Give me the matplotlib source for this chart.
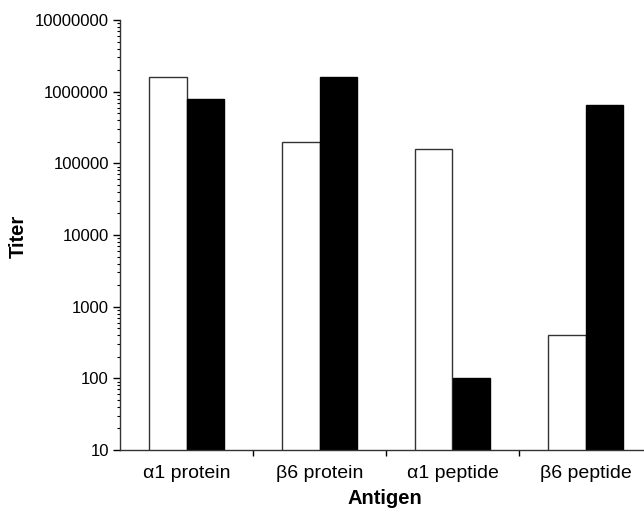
import numpy as np
import matplotlib
matplotlib.use('Agg')
import matplotlib.pyplot as plt

# data
antigens = ['α1 protein', 'β6 protein', 'α1 peptide', 'β6 peptide']
titer_white = [1600000, 200000, 160000, 400]
titer_black = [800000, 1600000, 100, 650000]

plt.rcParams['font.family'] = ['Liberation Sans', 'DejaVu Sans']

fig = plt.figure(figsize=(6.44, 5.08), dpi=100)
ax = fig.add_axes([120 / 644, 58 / 508, 532 / 644, 430 / 508])

x = np.arange(len(antigens))
w = 0.28
ax.bar(x - w / 2, titer_white, width=w, color='white', edgecolor='#333333', linewidth=1.0)
ax.bar(x + w / 2, titer_black, width=w, color='black', edgecolor='black', linewidth=1.0)

ax.set_yscale('log')
ax.set_ylim(10, 10000000)
ax.set_xlim(-0.5, 3.5)

ticks = [10, 100, 1000, 10000, 100000, 1000000, 10000000]
ax.set_yticks(ticks)
ax.set_yticklabels([str(t) for t in ticks], fontsize=12)
ax.tick_params(axis='y', which='major', length=5, width=1, direction='out', pad=3)
ax.tick_params(axis='y', which='minor', length=2.5, width=0.8, direction='out')

# category labels centred, ticks between categories
ax.set_xticks(x + 0.5)
ax.set_xticklabels([])
ax.set_xticks(x, minor=True)
ax.set_xticklabels(antigens, minor=True, fontsize=14)
ax.tick_params(axis='x', which='major', length=4, width=1, direction='out')
ax.tick_params(axis='x', which='minor', length=0, pad=11)

for s in ['top', 'right']:
    ax.spines[s].set_visible(False)
for s in ['left', 'bottom']:
    ax.spines[s].set_color('#333333')
    ax.spines[s].set_linewidth(1.0)

# axis titles placed in figure pixels
fig.text(18 / 644, 1 - 236 / 508, 'Titer', fontsize=14.5, fontweight='bold',
         rotation=90, ha='center', va='center')
fig.text(385 / 644, 1 - 498 / 508, 'Antigen', fontsize=14.5, fontweight='bold',
         ha='center', va='center')

plt.savefig('out.png', dpi=100)
